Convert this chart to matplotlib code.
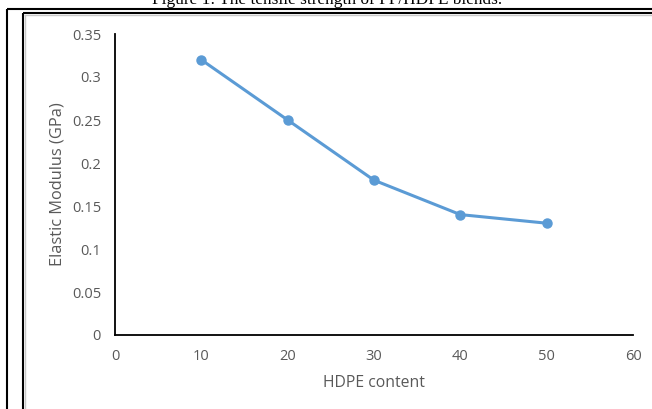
import matplotlib
matplotlib.use("Agg")
import matplotlib.pyplot as plt
from matplotlib.lines import Line2D

hdpe_content = [10, 20, 30, 40, 50]
elastic_modulus = [0.32, 0.25, 0.18, 0.14, 0.13]
x_ticks = [0, 10, 20, 30, 40, 50, 60]
y_ticks = [0, 0.05, 0.1, 0.15, 0.2, 0.25, 0.3, 0.35]
y_tick_labels = ["0", "0.05", "0.1", "0.15", "0.2", "0.25", "0.3", "0.35"]
title_text = "Figure 1: The tensile strength of PP/HDPE blends."

W, H = 652, 409
fig = plt.figure(figsize=(W / 100, H / 100), dpi=100)
fig.patch.set_facecolor("white")

def px(x, y):
    return x / W, 1 - y / H

# decorative document frame
def fline(x0, y0, x1, y1, color="black", lw=1.5):
    a = px(x0, y0); b = px(x1, y1)
    fig.add_artist(Line2D([a[0], b[0]], [a[1], b[1]], color=color, lw=lw,
                          transform=fig.transFigure, solid_capstyle="butt"))

fline(7, 9, 7, H)
fline(7, 9, W, 9)
fline(24.5, 14.5, 24.5, H, color="#c8c8c8", lw=1.0)
fline(22.5, 13, 22.5, H)
fline(22.5, 13, W, 13)
fline(24, 15, W, 15, color="#c8c8c8", lw=1.0)

tx, ty = px(327, 3.5)
fig.text(tx, ty, title_text, ha="center", va="baseline",
         fontsize=12.4, family="Liberation Serif", color="black")

left, right, top, bottom = 115, 633, 34, 335
ax = fig.add_axes([left / W, 1 - bottom / H, (right - left) / W, (bottom - top) / H])

ax.plot(hdpe_content, elastic_modulus, color="#5B9BD5", lw=2.2,
        marker="o", markersize=6.5, markeredgecolor="#5B9BD5", markerfacecolor="#5B9BD5",
        solid_capstyle="round", zorder=3, clip_on=False)

ax.set_xlim(0, 60)
ax.set_ylim(0, 0.35)
ax.set_xticks(x_ticks)
ax.set_xticklabels([str(t) for t in x_ticks])
ax.set_yticks(y_ticks)
ax.set_yticklabels(y_tick_labels)

for s in ["top", "right"]:
    ax.spines[s].set_visible(False)
for s in ["left", "bottom"]:
    ax.spines[s].set_color("black")
    ax.spines[s].set_linewidth(1.3)

tick_color = "#595959"
ax.tick_params(axis="both", length=0, labelcolor=tick_color, labelsize=10.5)
ax.tick_params(axis="x", pad=10)
ax.tick_params(axis="y", pad=10)
for lab in ax.get_xticklabels() + ax.get_yticklabels():
    lab.set_family("Open Sans")

ax.set_xlabel("HDPE content", fontsize=11.3, color=tick_color, family="Open Sans")
ax.set_ylabel("Elastic Modulus (GPa)", fontsize=11.8, color=tick_color, family="Open Sans")
ax.xaxis.set_label_coords(0.5, (H - 383 - (H - bottom)) / (bottom - top))
ax.xaxis.label.set_va("center")
ax.yaxis.set_label_coords((58 - left) / (right - left), 0.5)
ax.yaxis.label.set_va("center")
ax.yaxis.label.set_ha("center")

fig.savefig("out.png", dpi=100, facecolor="white")
